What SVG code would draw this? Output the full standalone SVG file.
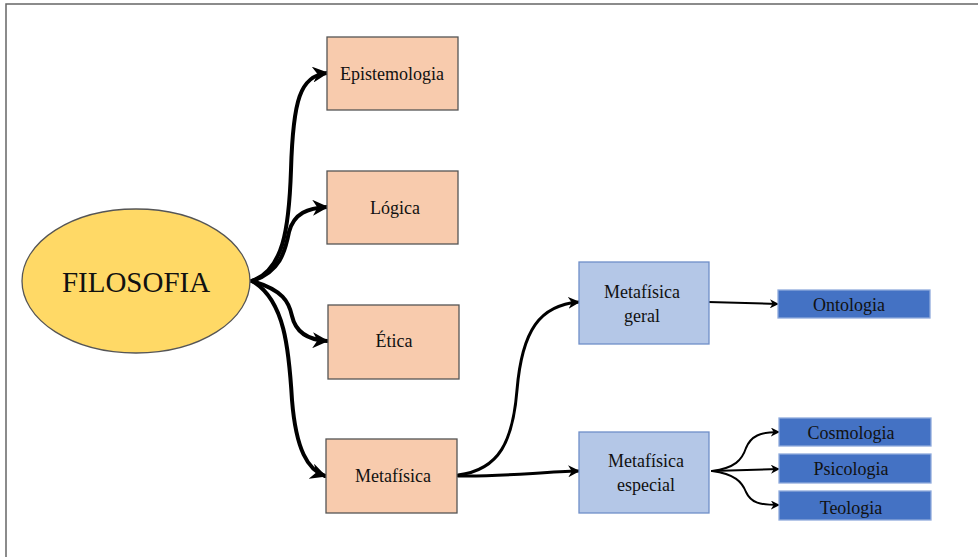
<svg xmlns="http://www.w3.org/2000/svg" width="978" height="557" viewBox="0 0 978 557">
<style>
text{font-family:"Liberation Serif","Times New Roman",serif;fill:#111;text-anchor:middle;dominant-baseline:central}
.lbl{font-size:18px}
.or{fill:#F8CBAD;stroke:#555;stroke-width:1.3}
.lb{fill:#B4C7E7;stroke:#6F8FC8;stroke-width:1.3}
.db{fill:#4472C4;stroke:#8FAADC;stroke-width:1.3}
.thick{fill:none;stroke:#000;stroke-width:4;stroke-linecap:round}
.mid{fill:none;stroke:#000;stroke-width:3;stroke-linecap:round}
.thin{fill:none;stroke:#000;stroke-width:2;stroke-linecap:round}
</style>
<defs>
<marker id="ah" markerUnits="userSpaceOnUse" viewBox="0 0 10 10" refX="9" refY="5" markerWidth="16" markerHeight="16" orient="auto"><path d="M0,0 L10,5 L0,10 L3,5 z" fill="#000"/></marker>
<marker id="am" markerUnits="userSpaceOnUse" viewBox="0 0 10 10" refX="9" refY="5" markerWidth="12" markerHeight="12" orient="auto"><path d="M0,0 L10,5 L0,10 L3,5 z" fill="#000"/></marker>
<marker id="as" markerUnits="userSpaceOnUse" viewBox="0 0 10 10" refX="9" refY="5" markerWidth="9" markerHeight="9" orient="auto"><path d="M0,0 L10,5 L0,10 L3,5 z" fill="#000"/></marker>
</defs>
<rect x="0" y="0" width="978" height="557" fill="#fff"/>
<path d="M6,560 L6,4 L980,4" fill="none" stroke="#666" stroke-width="1.5"/>
<g id="connectors">
<path class="thick" marker-end="url(#ah)" d="M252,281 C283,270 289,230 291,170 C293,100 300,76 327,73"/>
<path class="thick" marker-end="url(#ah)" d="M252,281 C280,272 285,252 289,232 C294,213 308,208 327,207"/>
<path class="thick" marker-end="url(#ah)" d="M252,281 C283,290 289,302 292,316 C296,334 310,340 327,341"/>
<path class="thick" marker-end="url(#ah)" d="M252,281 C285,300 289,350 292,400 C296,450 308,470 325,476"/>
<path class="mid" marker-end="url(#am)" d="M458,475 C500,470 513,440 517,390 C522,330 540,305 579,302"/>
<path class="mid" marker-end="url(#am)" d="M458,476 C500,477 540,472 579,471"/>
<path class="thin" marker-end="url(#as)" d="M708,302 L778,304"/>
<path class="thin" marker-end="url(#as)" d="M712,471 C735,468 742,460 746,448 C751,436 760,432 779,432"/>
<path class="thin" marker-end="url(#as)" d="M712,471 L779,469"/>
<path class="thin" marker-end="url(#as)" d="M712,471 C735,474 742,482 746,492 C751,503 760,505 779,505"/>
</g>
<g id="filosofia"><ellipse cx="136" cy="281" rx="114" ry="72" fill="#FFD966" stroke="#555" stroke-width="1.3"/><text x="136" y="282" font-size="29">FILOSOFIA</text></g>
<g id="epistemologia"><rect class="or" x="327" y="37" width="131" height="73"/><text class="lbl" x="392" y="74">Epistemologia</text></g>
<g id="logica"><rect class="or" x="327" y="171" width="131" height="73"/><text class="lbl" x="395" y="208">Lógica</text></g>
<g id="etica"><rect class="or" x="328" y="305" width="131" height="74"/><text class="lbl" x="394" y="341">Ética</text></g>
<g id="metafisica"><rect class="or" x="326" y="439" width="131" height="74"/><text class="lbl" x="393" y="476">Metafísica</text></g>
<g id="metafisica-geral"><rect class="lb" x="579" y="262" width="130" height="82"/><text class="lbl" x="642" y="292">Metafísica</text><text class="lbl" x="642" y="316">geral</text></g>
<g id="metafisica-especial"><rect class="lb" x="579" y="432" width="130" height="81"/><text class="lbl" x="646" y="461">Metafísica</text><text class="lbl" x="646" y="485">especial</text></g>
<g id="ontologia"><rect class="db" x="778" y="290" width="152" height="28"/><text class="lbl" x="849" y="305">Ontologia</text></g>
<g id="cosmologia"><rect class="db" x="779" y="418" width="152" height="28"/><text class="lbl" x="851" y="433">Cosmologia</text></g>
<g id="psicologia"><rect class="db" x="779" y="454" width="152" height="29"/><text class="lbl" x="851" y="469">Psicologia</text></g>
<g id="teologia"><rect class="db" x="779" y="491" width="152" height="29"/><text class="lbl" x="851" y="508">Teologia</text></g>
</svg>
